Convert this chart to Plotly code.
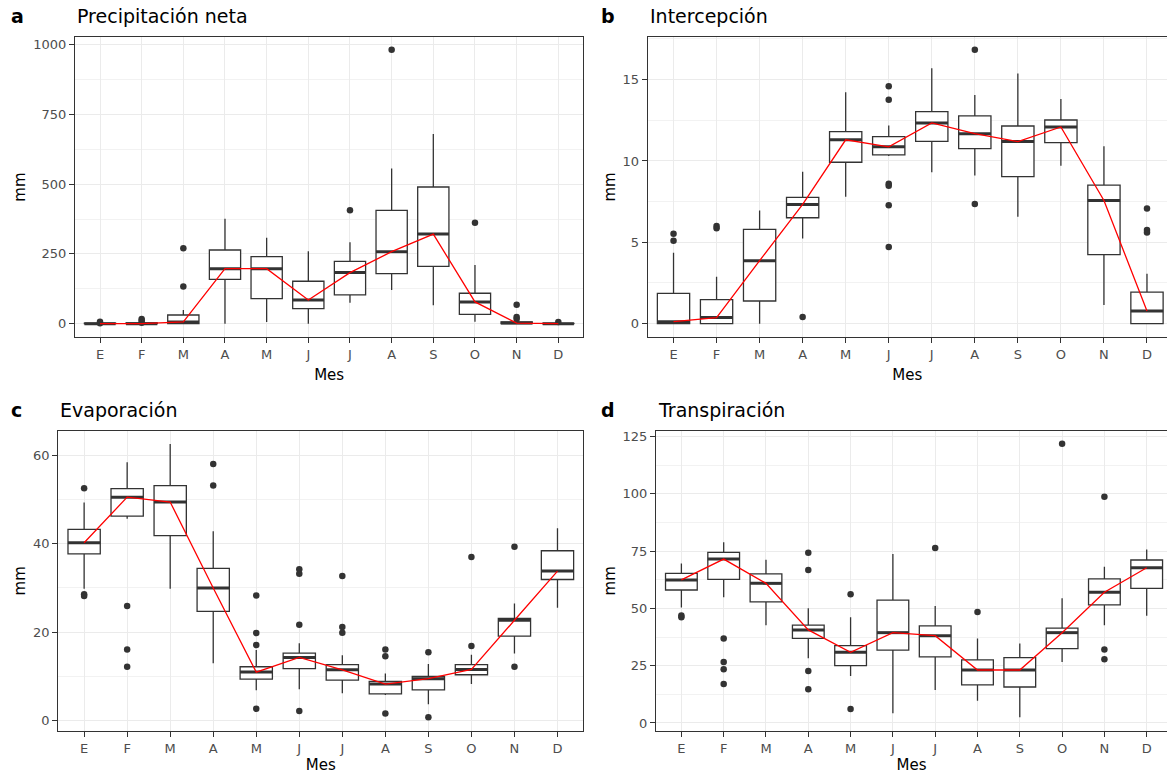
import plotly.graph_objects as go

months = ["E", "F", "M", "A", "M", "J", "J", "A", "S", "O", "N", "D"]
pos = list(range(1, 13))

# a: Precipitación neta
a_q1 = [0, 0, 0, 159, 90, 54, 103, 179, 205, 33, 0, 0]
a_med = [0, 0, 6, 197, 197, 85, 183, 258, 321, 78, 2, 0]
a_q3 = [2, 3, 31, 264, 240, 152, 223, 406, 490, 109, 6, 1]
a_lo = [0, 0, 0, 0, 6, 0, 75, 121, 66, 7, 0, 0]
a_hi = [3, 5, 49, 376, 308, 260, 292, 556, 680, 210, 10, 2]
a_out = [[7, 1], [17, 11, 3], [270, 133], [], [], [], [407], [982], [], [362], [68, 24, 17], [6]]

# b: Intercepción
b_q1 = [0, 0, 1.39, 6.51, 9.92, 10.37, 11.21, 10.76, 9.04, 11.13, 4.24, 0]
b_med = [0.12, 0.37, 3.87, 7.33, 11.3, 10.87, 12.34, 11.68, 11.19, 12.09, 7.57, 0.78]
b_q3 = [1.86, 1.47, 5.79, 7.76, 11.81, 11.5, 13.03, 12.77, 12.15, 12.52, 8.51, 1.94]
b_lo = [0, 0, 0, 5.24, 7.8, 10.3, 9.31, 9.1, 6.57, 9.7, 1.15, 0]
b_hi = [4.36, 2.89, 6.96, 9.33, 14.22, 12.18, 15.7, 14.06, 15.37, 13.81, 10.9, 3.07]
b_out = [[5.52, 5.1], [6.0, 5.87], [], [0.41], [], [14.59, 13.77, 8.6, 8.48, 7.28, 4.71],
         [], [16.84, 7.35], [], [], [], [7.08, 5.75, 5.6]]

# c: Evaporación
c_q1 = [37.7, 46.2, 41.8, 24.7, 9.4, 11.8, 9.2, 6.1, 7.0, 10.4, 19.1, 31.9]
c_med = [40.2, 50.5, 49.4, 30.0, 11.0, 14.3, 11.5, 8.3, 9.5, 11.6, 22.7, 33.8]
c_q3 = [43.2, 52.4, 53.1, 34.4, 12.2, 15.3, 12.7, 8.9, 10.0, 12.7, 23.1, 38.4]
c_lo = [29.8, 45.6, 29.8, 13.0, 6.9, 7.1, 6.2, 5.8, 3.75, 8.3, 15.2, 25.5]
c_hi = [49.3, 58.4, 62.5, 42.8, 16.0, 17.5, 14.8, 10.7, 12.8, 14.9, 26.5, 43.5]
c_out = [[52.5, 28.6, 28.2], [25.9, 16.1, 12.2], [], [58.0, 53.1], [28.3, 19.8, 17.1, 2.7],
         [34.2, 33.2, 21.7, 2.2], [32.7, 21.2, 19.9], [16.1, 14.6, 1.65], [15.5, 0.8],
         [37.0, 16.9], [39.3, 12.2], []]

# d: Transpiración
d_q1 = [58.0, 62.6, 52.8, 36.9, 25.0, 31.8, 28.8, 16.6, 15.7, 32.4, 51.5, 58.7]
d_med = [62.4, 71.5, 60.9, 40.6, 30.8, 39.4, 38.1, 23.1, 23.1, 39.4, 57.0, 67.7]
d_q3 = [65.3, 74.4, 65.0, 42.7, 33.7, 53.6, 42.4, 27.5, 28.5, 41.4, 62.9, 71.1]
d_lo = [50.4, 54.8, 42.6, 28.2, 20.5, 4.2, 14.4, 9.7, 2.5, 26.6, 42.6, 46.8]
d_hi = [69.6, 78.8, 71.2, 50.0, 46.1, 73.7, 51.0, 36.9, 34.7, 54.4, 68.2, 75.7]
d_out = [[46.9, 46.1], [36.9, 26.6, 23.4, 17.0], [], [74.3, 66.7, 22.7, 14.7], [56.1, 6.1], [],
         [76.3], [48.4], [], [121.8], [98.7, 32.1, 27.8], []]

panels = [
    dict(tag="a", title="Precipitación neta", q1=a_q1, med=a_med, q3=a_q3, lo=a_lo, hi=a_hi, out=a_out,
         xd=[0.06427, 0.49983], yd=[0.56421, 0.95258], xr=[0.4, 12.6], yr=[-49, 1029],
         dt=250, tagx=9, titx=75),
    dict(tag="b", title="Intercepción", q1=b_q1, med=b_med, q3=b_q3, lo=b_lo, hi=b_hi, out=b_out,
         xd=[0.55501, 1.0], yd=[0.56421, 0.95258], xr=[0.4, 12.465], yr=[-0.84, 17.64],
         dt=5, tagx=599, titx=648),
    dict(tag="c", title="Evaporación", q1=c_q1, med=c_med, q3=c_q3, lo=c_lo, hi=c_hi, out=c_out,
         xd=[0.04996, 0.49983], yd=[0.05556, 0.44354], xr=[0.4, 12.6], yr=[-2.3, 65.5],
         dt=20, tagx=9, titx=58),
    dict(tag="d", title="Transpiración", q1=d_q1, med=d_med, q3=d_q3, lo=d_lo, hi=d_hi, out=d_out,
         xd=[0.56213, 1.0], yd=[0.05556, 0.44354], xr=[0.4, 12.48], yr=[-3.5, 127.5],
         dt=25, tagx=599, titx=656),
]

W, H = 1167, 774
FONT = "DejaVu Sans"
BOXW = 0.75
fig = go.Figure()
layout = dict(width=W, height=H, margin=dict(l=0, r=0, t=0, b=0), paper_bgcolor="white",
              plot_bgcolor="white", showlegend=False, font=dict(family=FONT, color="black"))
annotations = []

for i, p in enumerate(panels):
    n = "" if i == 0 else str(i + 1)
    xref, yref = "x" + n, "y" + n
    fig.add_trace(go.Box(
        x=pos, q1=p["q1"], median=p["med"], q3=p["q3"], lowerfence=p["lo"], upperfence=p["hi"],
        width=BOXW, whiskerwidth=0, boxpoints=False, fillcolor="white",
        line=dict(color="#333333", width=1.3), xaxis=xref, yaxis=yref, hoverinfo="skip"))
    # thick median bars
    mx, my = [], []
    for xi, m in zip(pos, p["med"]):
        mx += [xi - BOXW / 2, xi + BOXW / 2, None]
        my += [m, m, None]
    fig.add_trace(go.Scatter(x=mx, y=my, mode="lines", line=dict(color="#333333", width=3),
                             xaxis=xref, yaxis=yref, hoverinfo="skip"))
    ox, oy = [], []
    for xi, vals in zip(pos, p["out"]):
        ox += [xi] * len(vals)
        oy += vals
    fig.add_trace(go.Scatter(x=ox, y=oy, mode="markers",
                             marker=dict(color="#333333", size=6.5), xaxis=xref, yaxis=yref))
    fig.add_trace(go.Scatter(x=pos, y=p["med"], mode="lines", line=dict(color="red", width=1.3),
                             xaxis=xref, yaxis=yref))
    right = i in (1, 3)
    layout["xaxis" + n] = dict(
        domain=p["xd"], range=p["xr"], anchor=yref, tickmode="array", tickvals=pos, ticktext=months,
        showgrid=True, gridcolor="#EBEBEB", gridwidth=1.1, zeroline=False,
        showline=True, linecolor="#333333", linewidth=1.2, mirror=True,
        ticks="outside", ticklen=5, tickwidth=1.1, tickcolor="#333333",
        tickfont=dict(family=FONT, size=13, color="#4D4D4D"),
        title=dict(text="Mes", font=dict(family=FONT, size=15, color="black"), standoff=8),
        automargin=False, fixedrange=True)
    layout["yaxis" + n] = dict(
        domain=p["yd"], range=p["yr"], anchor=xref, tickmode="linear", tick0=0, dtick=p["dt"],
        showgrid=True, gridcolor="#EBEBEB", gridwidth=1.1, zeroline=False,
        minor=dict(dtick=p["dt"] / 2, tick0=0, showgrid=True, gridcolor="#F2F2F2", gridwidth=0.8,
                   ticks=""),
        showline=True, linecolor="#333333", linewidth=1.2, mirror=(not right),
        ticks="outside", ticklen=5, tickwidth=1.1, tickcolor="#333333",
        tickfont=dict(family=FONT, size=13, color="#4D4D4D"),
        title=dict(text="mm", font=dict(family=FONT, size=15, color="black"), standoff=3),
        automargin=False, fixedrange=True)
    top_px = H * (1 - p["yd"][1])
    ycap = 1 - (top_px - 20.5) / H
    annotations.append(dict(text="<b>%s</b>" % p["tag"], xref="paper", yref="paper",
                            x=p["tagx"] / W, y=ycap, xanchor="left", yanchor="middle",
                            showarrow=False, font=dict(family=FONT, size=19, color="black")))
    annotations.append(dict(text=p["title"], xref="paper", yref="paper",
                            x=p["titx"] / W, y=ycap, xanchor="left", yanchor="middle",
                            showarrow=False, font=dict(family=FONT, size=19, color="black")))

layout["annotations"] = annotations
fig.update_layout(**layout)
fig.write_html("out.html")
